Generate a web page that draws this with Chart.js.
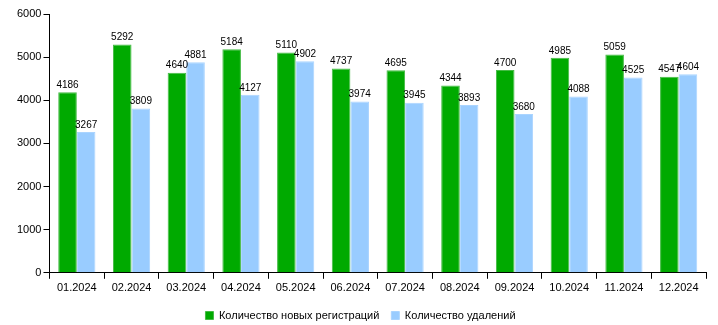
<!DOCTYPE html>
<html>
<head>
<meta charset="utf-8">
<script src="https://cdn.jsdelivr.net/npm/chart.js@4/dist/chart.umd.min.js"></script>
<style>
  html, body { margin: 0; padding: 0; background: #fff; }
</style>
</head>
<body>
<canvas id="c" width="718" height="325"></canvas>
<script>
const months = ['01.2024', '02.2024', '03.2024', '04.2024', '05.2024', '06.2024',
  '07.2024', '08.2024', '09.2024', '10.2024', '11.2024', '12.2024']
const registrations = [4186, 5292, 4640, 5184, 5110, 4737, 4695, 4344, 4700, 4985, 5059, 4547]
const deletions = [3267, 3809, 4881, 4127, 4902, 3974, 3945, 3893, 3680, 4088, 4525, 4604]
const yTicks = [0, 1000, 2000, 3000, 4000, 5000, 6000]

const FONT = 'Arial, "Liberation Sans", sans-serif'

// подписи значений над столбцами
const valueLabels = {
  id: 'valueLabels',
  afterDatasetsDraw(chart){
    const ctx = chart.ctx
    ctx.save()
    ctx.font = '10px ' + FONT
    ctx.fillStyle = '#000'
    ctx.textAlign = 'center'
    ctx.textBaseline = 'bottom'
    chart.data.datasets.forEach((ds, i) => {
      chart.getDatasetMeta(i).data.forEach((bar, j) => {
        ctx.fillText(ds.data[j], bar.x, bar.y - 2)
      })
    })
    ctx.restore()
  }
}

new Chart(document.getElementById('c'), {
  type: 'bar',
  data: {
    labels: months,
    datasets: [{
      label: 'Количество новых регистраций',
      data: registrations,
      backgroundColor: '#00AA00',
      borderColor: '#44BB44',
      borderWidth: 1
    }, {
      label: 'Количество удалений',
      data: deletions,
      backgroundColor: '#99CCFF',
      borderColor: '#AAD4FF',
      borderWidth: 1
    }]
  },
  options: {
    responsive: false,
    animation: false,
    layout: { padding: { top: 14, right: 12, left: 15, bottom: -6 } },
    datasets: { bar: { categoryPercentage: 0.68, barPercentage: 1 } },
    plugins: {
      tooltip: { enabled: false },
      legend: {
        position: 'bottom',
        labels: {
          boxWidth: 8,
          boxHeight: 8,
          padding: 12,
          color: '#000',
          font: { family: FONT, size: 11 }
        }
      }
    },
    scales: {
      x: {
        grid: { drawOnChartArea: false, color: '#000', tickLength: 6 },
        border: { color: '#000', width: 1 },
        ticks: { color: '#000', font: { family: FONT, size: 11 }, maxRotation: 0, padding: 3 }
      },
      y: {
        min: 0,
        max: 6000,
        afterBuildTicks: axis => { axis.ticks = yTicks.map(v => ({ value: v })) },
        grid: { drawOnChartArea: false, color: '#000', tickLength: 6 },
        border: { color: '#000', width: 1 },
        ticks: { color: '#000', font: { family: FONT, size: 11 }, padding: 2, callback: v => String(v) }
      }
    }
  },
  plugins: [valueLabels]
})
</script>
</body>
</html>
